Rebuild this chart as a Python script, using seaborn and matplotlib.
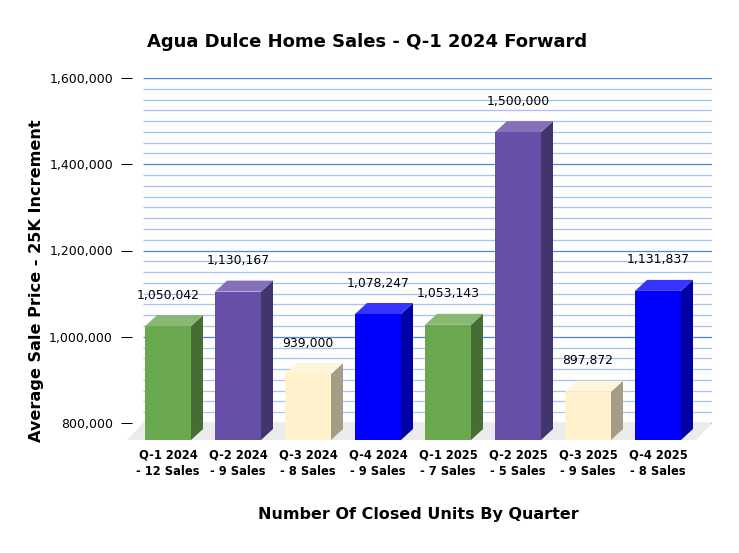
import matplotlib
matplotlib.use("Agg")
import matplotlib.pyplot as plt
from matplotlib.patches import Polygon
import numpy as np
import pandas as pd
import seaborn as sns

# -------------------------------
# Data
# -------------------------------
quarters = ["Q-1 2024", "Q-2 2024", "Q-3 2024", "Q-4 2024",
            "Q-1 2025", "Q-2 2025", "Q-3 2025", "Q-4 2025"]
sales_counts = [12, 9, 8, 9, 7, 5, 9, 8]
avg_price = [1050042, 1130167, 939000, 1078247,
             1053143, 1500000, 897872, 1131837]
y_ticks = [800000, 1000000, 1200000, 1400000, 1600000]

labels = [f"{q}\n- {n} Sales" for q, n in zip(quarters, sales_counts)]
df = pd.DataFrame({"quarter": labels, "price": avg_price})

front_cols = ["#6aa84f", "#674ea7", "#fff2cc", "#0000ff"] * 2
side_cols = ["#466d33", "#42346c", "#a59e86", "#0000a3"] * 2
top_cols = ["#88b873", "#8571b9", "#fff5d8", "#3535ff"] * 2

W, H = 739, 553
sns.set_style("white")
plt.rcParams["font.family"] = ["DejaVu Sans"]
for key in ["text.color", "axes.labelcolor", "xtick.color", "ytick.color"]:
    plt.rcParams[key] = "black"

fig = plt.figure(figsize=(W / 100, H / 100), dpi=100)

# axes box = back wall (pixels 143..712 wide, 78..440 tall incl. floor)
ax = fig.add_axes([143 / W, (H - 440) / H, (712 - 143) / W, (440 - 78) / H])

px_per_cat = 70.0
px_per_val = 345.0 / 800000
y_bottom = 800000 - 17 / px_per_val
dx = 12 / px_per_cat          # bar depth in x (data units)
dy = 11 / px_per_val          # bar depth in y (data units)
fdx = 16 / px_per_cat         # floor depth in x

sns.barplot(data=df, x="quarter", y="price", hue="quarter",
            palette=front_cols, saturation=1, width=46 / px_per_cat,
            errorbar=None, legend=False, ax=ax)

x_left = (143 - 180) / px_per_cat
x_right = (712 - 180) / px_per_cat
ax.set_xlim(x_left, x_right)
ax.set_ylim(y_bottom, 1600000)

# grid lines on the back wall
grid_vals = np.arange(800000, 1600001, 25000)
for g in grid_vals:
    major = g % 200000 == 0
    ax.hlines(g, x_left, x_right, colors="#4a86e8" if major else "#a4c2f4",
              linewidth=0.9, zorder=0.5)

# floor
floor = Polygon([(x_left - fdx, y_bottom), (x_right - fdx, y_bottom),
                 (x_right, 800000), (x_left, 800000)],
                closed=True, facecolor="#ebebeb", edgecolor="none",
                zorder=0.8, clip_on=False)
ax.add_patch(floor)

# turn seaborn bars into 3D-looking bars
for bar in list(ax.patches):
    if bar is floor:
        continue
    i = int(round(bar.get_x() + bar.get_width() / 2))
    v = avg_price[i]
    x0 = bar.get_x()
    x1 = x0 + bar.get_width()
    bar.set_x(x0 - dx)
    bar.set_y(y_bottom)
    bar.set_height(v - dy - y_bottom)
    bar.set_edgecolor("none")
    bar.set_zorder(2)
    bar.set_clip_on(False)
    side = Polygon([(x1 - dx, v - dy), (x1 - dx, y_bottom),
                    (x1, y_bottom + dy), (x1, v)],
                   closed=True, facecolor=side_cols[i], edgecolor="none",
                   zorder=2, clip_on=False)
    top = Polygon([(x0 - dx, v - dy), (x1 - dx, v - dy), (x1, v), (x0, v)],
                  closed=True, facecolor=top_cols[i], edgecolor="none",
                  zorder=2, clip_on=False)
    ax.add_patch(side)
    ax.add_patch(top)
    ax.text(i - dx, v + 20 / px_per_val, f"{v:,}", ha="center", va="center",
            fontsize=8.9, color="black")

for s in ax.spines.values():
    s.set_visible(False)
ax.spines["left"].set_position(("outward", 11 * 0.72))

ax.set_yticks(y_ticks)
ax.set_yticklabels([f"{t:,}" for t in y_ticks], fontsize=9)
ax.tick_params(axis="y", direction="out", length=11 * 0.72, width=0.72,
               pad=8 * 0.72, left=True, color="black")

ax.set_xticks(np.arange(len(labels)) - dx)
ax.set_xticklabels(labels, fontsize=8.3, fontweight="bold", linespacing=1.3)
ax.tick_params(axis="x", length=0, pad=9 * 0.72)
ax.set_xlabel("")
ax.set_ylabel("")

fig.text(367 / W, 1 - 42 / H, "Agua Dulce Home Sales - Q-1 2024 Forward",
         ha="center", va="center", fontsize=13, fontweight="bold")
fig.text(37 / W, 1 - 281 / H, "Average Sale Price - 25K Increment",
         ha="center", va="center", rotation=90, fontsize=11.6,
         fontweight="bold")
fig.text(418 / W, 1 - 515 / H, "Number Of Closed Units By Quarter",
         ha="center", va="center", fontsize=11.5, fontweight="bold")

fig.savefig("out.png", dpi=100, facecolor="white")
